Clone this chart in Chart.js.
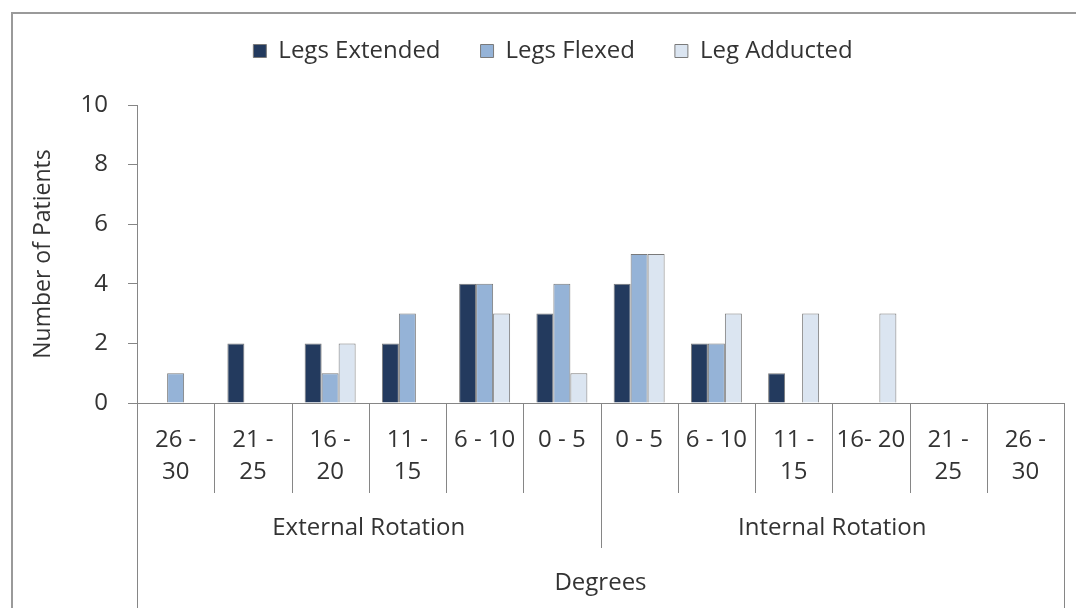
<!DOCTYPE html>
<html>
<head>
<meta charset="utf-8">
<script src="https://cdn.jsdelivr.net/npm/chart.js@4/dist/chart.umd.min.js"></script>
<style>
  html, body { margin: 0; padding: 0; background: #ffffff; }
  canvas { display: block; }
</style>
</head>
<body>
<canvas id="c" width="1076" height="608"></canvas>
<script>
// ---- data ----
const categories = [['26 -', '30'], ['21 -', '25'], ['16 -', '20'], ['11 -', '15'], '6 - 10', '0 - 5',
                    '0 - 5', '6 - 10', ['11 -', '15'], '16- 20', ['21 -', '25'], ['26 -', '30']];
const groupNames = ['External Rotation', 'Internal Rotation'];
const groupSizes = [6, 6];
const seriesNames = ['Legs Extended', 'Legs Flexed', 'Leg Adducted'];
const legsExtended = [0, 2, 2, 2, 4, 3, 4, 2, 1, 0, 0, 0];
const legsFlexed   = [1, 0, 1, 3, 4, 4, 5, 2, 0, 0, 0, 0];
const legAdducted  = [0, 0, 2, 0, 3, 1, 5, 3, 3, 3, 0, 0];
const yMin = 0, yMax = 10, yStep = 2;
const xTitle = 'Degrees';
const yTitle = 'Number of Patients';

// ---- styles ----
const FONT = '"Open Sans", "DejaVu Sans", sans-serif';
const TEXT = '#333333';
const AXIS = '#868686';
const colors = ['#233a5e', '#95b3d7', '#dbe5f1'];
const LEGEND_TOP = -1;

const multiLevelAxis = {
  id: 'multiLevelAxis',
  afterLayout(chart) {
    const lg = chart.legend;
    if (lg) {
      const dy = lg.top - LEGEND_TOP;
      lg.top -= dy;
      lg.bottom -= dy;
    }
  },
  beforeDraw(chart) {
    const ctx = chart.ctx;
    ctx.save();
    ctx.strokeStyle = '#9a9a9a';
    ctx.lineWidth = 2;
    ctx.beginPath();
    ctx.moveTo(12, chart.height);
    ctx.lineTo(12, 13);
    ctx.lineTo(chart.width, 13);
    ctx.stroke();
    ctx.restore();
  },
  afterDraw(chart) {
    const ctx = chart.ctx;
    const xs = chart.scales.x;
    const top = xs.top;
    const n = categories.length;
    const bounds = [];
    let acc = 0;
    groupSizes.forEach(s => { acc += s; bounds.push(acc); });
    ctx.save();
    ctx.strokeStyle = AXIS;
    ctx.lineWidth = 1;
    for (let i = 0; i <= n; i++) {
      const px = Math.round(xs.getPixelForValue(i - 0.5)) + 0.5;
      let bottom = top + 90;
      if (i === 0 || i === n) bottom = chart.height;
      else if (bounds.includes(i)) bottom = top + 145;
      ctx.beginPath();
      ctx.moveTo(px, top);
      ctx.lineTo(px, bottom);
      ctx.stroke();
    }
    ctx.fillStyle = TEXT;
    ctx.font = '24px ' + FONT;
    ctx.textAlign = 'center';
    ctx.textBaseline = 'middle';
    let start = 0;
    groupNames.forEach((g, k) => {
      const end = start + groupSizes[k];
      const cx = (xs.getPixelForValue(start - 0.5) + xs.getPixelForValue(end - 0.5)) / 2;
      ctx.fillText(g, cx, top + 125);
      start = end;
    });
    ctx.restore();
  }
};

new Chart(document.getElementById('c'), {
  type: 'bar',
  data: {
    labels: categories,
    datasets: [
      { label: seriesNames[0], data: legsExtended, backgroundColor: colors[0] },
      { label: seriesNames[1], data: legsFlexed, backgroundColor: colors[1] },
      { label: seriesNames[2], data: legAdducted, backgroundColor: colors[2] }
    ].map(d => Object.assign(d, { borderColor: '#7a7a7a', borderWidth: 1, borderSkipped: 'bottom' }))
  },
  options: {
    responsive: false,
    animation: false,
    devicePixelRatio: 1,
    layout: { padding: { left: 42, right: 12, top: 0, bottom: 0 } },
    datasets: { bar: { categoryPercentage: 0.66, barPercentage: 1.0 } },
    plugins: {
      legend: {
        position: 'top',
        labels: {
          font: { family: FONT, size: 24 },
          color: TEXT,
          boxWidth: 13,
          boxHeight: 13,
          padding: 40
        }
      },
      tooltip: { enabled: false }
    },
    scales: {
      x: {
        grid: { display: false, drawTicks: false },
        border: { display: true, color: AXIS, width: 1 },
        ticks: {
          font: { family: FONT, size: 24, lineHeight: 1.3 },
          color: TEXT,
          padding: 22,
          autoSkip: false,
          maxRotation: 0,
          minRotation: 0
        },
        title: {
          display: true, text: xTitle, color: TEXT,
          font: { family: FONT, size: 24 },
          padding: { top: 0, bottom: 10 }
        },
        afterFit(s) { s.height = 205; }
      },
      y: {
        min: yMin, max: yMax,
        grid: { drawOnChartArea: false, drawTicks: true, tickLength: 9, color: AXIS },
        border: { display: true, color: AXIS, width: 1 },
        ticks: {
          stepSize: yStep,
          font: { family: FONT, size: 24 },
          color: TEXT,
          padding: 20
        },
        title: {
          display: true, text: yTitle, color: TEXT,
          font: { family: FONT, size: 23 },
          padding: { top: -12, bottom: 0 }
        },
        afterFit(s) { s.width = 95; s.paddingTop = 105; }
      }
    }
  },
  plugins: [multiLevelAxis]
});
</script>
</body>
</html>
